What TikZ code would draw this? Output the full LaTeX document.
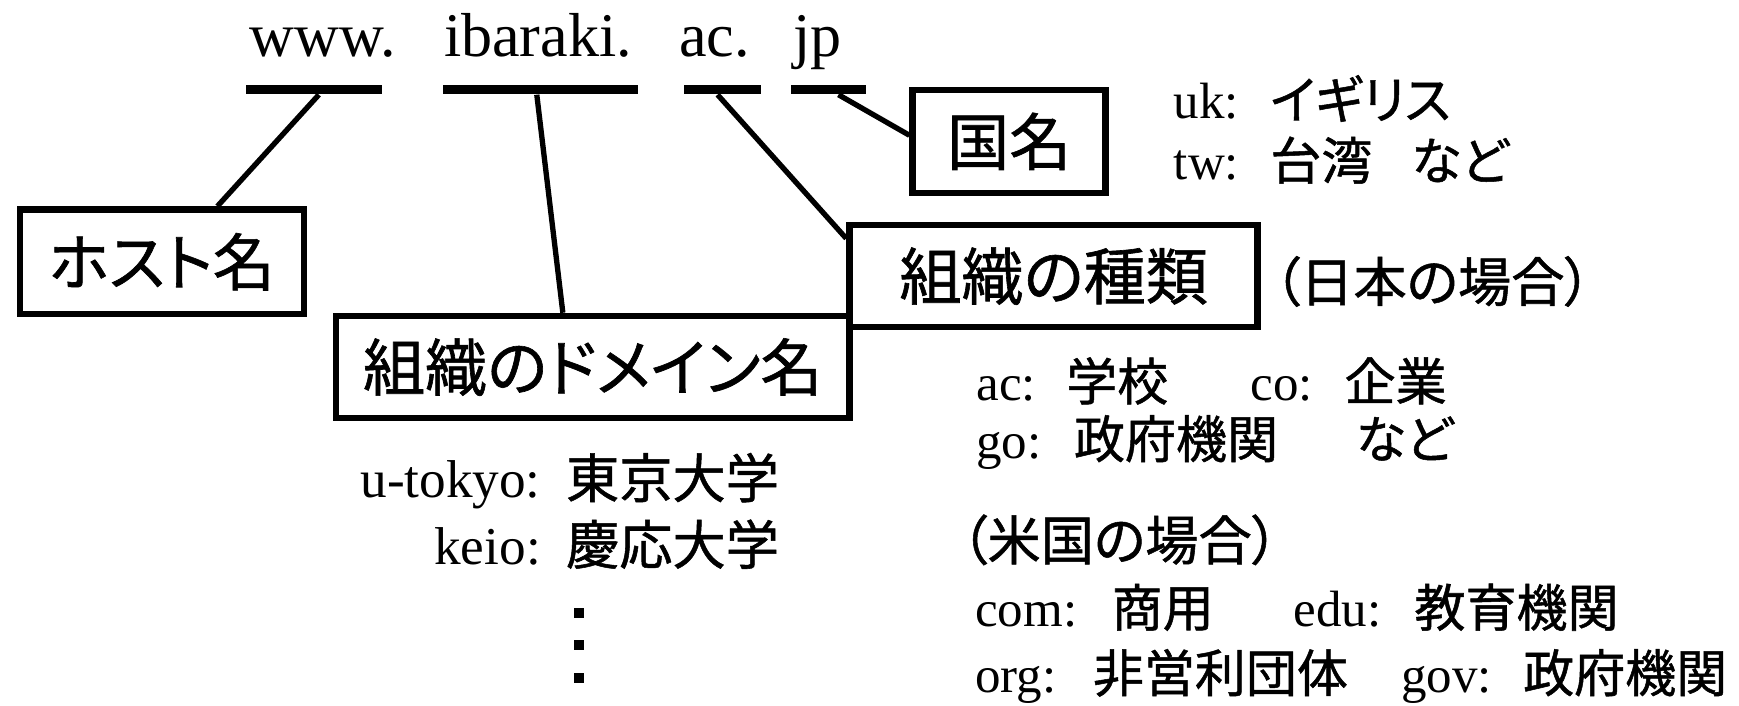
\documentclass[tikz,border=0pt]{standalone}
\usepackage{fontspec}
\setmainfont{Liberation Serif}
\newfontfamily\jpfont[RawFeature=+palt,FakeBold=1]{Noto Sans CJK JP}
\newcommand\J[1]{{\jpfont #1}}
\begin{document}
\begin{tikzpicture}[x=0.5pt,y=-0.5pt,
  url/.style={font=\fontsize{28}{30}\selectfont, inner sep=0pt, anchor=base west},
  lbl/.style={draw, line width=3pt, font=\jpfont\fontsize{28}{30}\selectfont, inner sep=0pt},
  barline/.style={fill=black, inner sep=0pt, minimum height=4pt},
  conn/.style={line width=2.4pt},
  note/.style={font=\fontsize{23}{26}\selectfont, inner sep=0pt, anchor=base west},
  jnote/.style={font=\jpfont\fontsize{23}{26}\selectfont, inner sep=0pt, anchor=base west},
  bignote/.style={font=\fontsize{24}{26}\selectfont, inner sep=0pt},
  bigjnote/.style={font=\jpfont\fontsize{24}{26}\selectfont, inner sep=0pt, anchor=base west},
  dotsq/.style={fill=black, inner sep=0pt, minimum size=4.5pt}]
\useasboundingbox (0,0) rectangle (1568,636);

% URL words
\node[url] (w1) at (225,51) {www.};
\node[url] (w2) at (400,51) {ibaraki.};
\node[url] (w3) at (612,51) {ac.};
\node[url] (w4) at (715,51) {jp};

% bars
\node[barline, minimum width=61pt] (bar1) at (283,81) {};
\node[barline, minimum width=88pt] (bar2) at (487,81) {};
\node[barline, minimum width=34.5pt] (bar3) at (651.5,81) {};
\node[barline, minimum width=34pt] (bar4) at (747,81) {};

% boxes
\node[lbl, minimum width=128pt, minimum height=47pt] (host) at (146,236) {ホスト名};
\node[lbl, minimum width=231.5pt, minimum height=46pt] (domain) at (534.5,331) {組織のドメイン名};
\node[lbl, minimum width=184pt, minimum height=46pt] (kind) at (950,249) {組織の種類};
\node[lbl, minimum width=87pt, minimum height=46.5pt] (country) at (910,127.5) {国名};

% connectors
\draw[conn] ([xshift=2.25pt]bar1.south) -- ([xshift=25pt]host.north);
\draw[conn] ([xshift=-1.5pt]bar2.south) -- ([xshift=-13.5pt]domain.north);
\draw[conn] ([xshift=-2.25pt]bar3.south) -- ([yshift=17pt]kind.west);
\draw[conn] ([xshift=4.5pt]bar4.south) -- ([yshift=2.75pt]country.west);

% country notes
\node[note] (uk) at (1058,107) {uk:};
\node[jnote] (ukv) at (1145,107) {イギリス};
\node[note] (tw) at (1058,162) {tw:};
\node[jnote] (twv) at (1145,162) {台湾};
\node[jnote] (twn) at (1272,162) {など};

% Japan
\node[bigjnote] (jpcase) at (1148,272) {（日本の場合）};
\node[note] (ac) at (880,361) {ac:};
\node[jnote] (acv) at (961,361) {学校};
\node[note] (co) at (1127,361) {co:};
\node[jnote] (cov) at (1212,361) {企業};
\node[note] (go) at (880,413) {go:};
\node[jnote] (gov1) at (968,413) {政府機関};
\node[jnote] (gon) at (1222,413) {など};

% USA
\node[bigjnote] (uscase) at (866,505) {（米国の場合）};
\node[note] (com) at (879,565) {com:};
\node[jnote] (comv) at (1002,565) {商用};
\node[note] (edu) at (1166,565) {edu:};
\node[jnote] (eduv) at (1275,565) {教育機関};
\node[note] (org) at (879,624) {org:};
\node[jnote] (orgv) at (985,624) {非営利団体};
\node[note] (gov) at (1263,624) {gov:};
\node[jnote] (govv) at (1373,624) {政府機関};

% domain examples
\node[bignote, anchor=base east] (ut) at (488,449) {u-tokyo:};
\node[bigjnote] (utv) at (510,449) {東京大学};
\node[bignote, anchor=base east] (ke) at (488,509) {keio:};
\node[bigjnote] (kev) at (510,509) {慶応大学};
\node[dotsq] (d1) at (522.5,552.5) {};
\node[dotsq] (d2) at (522.5,581.5) {};
\node[dotsq] (d3) at (522.5,611.5) {};
\end{tikzpicture}
\end{document}
